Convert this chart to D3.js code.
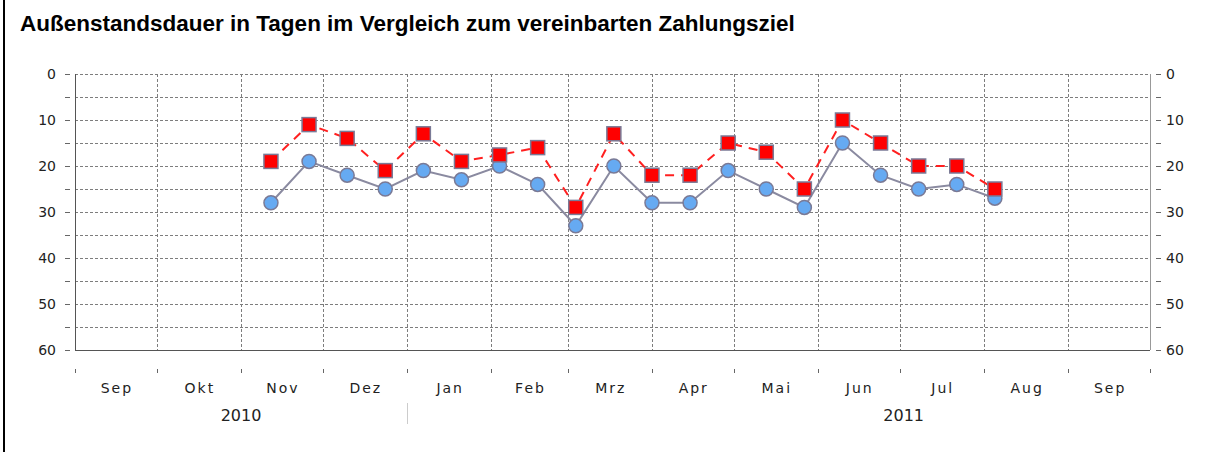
<!DOCTYPE html>
<html>
<head>
<meta charset="utf-8">
<script src="https://cdn.jsdelivr.net/npm/d3@7"></script>
<style>
  body { margin: 0; background: #fff; }
  svg { display: block; font-family: "DejaVu Sans", sans-serif; }
  .grid line { stroke: #7d7d7d; stroke-dasharray: 3,2; shape-rendering: crispEdges; }
  .tick-lbl { font-size: 14px; fill: #222; }
  .year-lbl { font-size: 16px; fill: #222; }
  .month-lbl { font-size: 14px; fill: #222; letter-spacing: 2px; }
</style>
</head>
<body>
<svg id="chart" width="1216" height="452"></svg>
<script>
// biweekly readings, starting 12 Nov 2010
var startDate = new Date(2010, 10, 12);
var stepDays = 14;
var aussenstand = [28, 19, 22, 25, 21, 23, 20, 24, 33, 20, 28, 28, 21, 25, 29, 15, 22, 25, 24, 27];
var zahlungsziel = [19, 11, 14, 21, 13, 19, 17.6, 16, 29, 13, 22, 22, 15, 17, 25, 10, 15, 20, 20, 25];
var monthNames = ["Jan", "Feb", "Mrz", "Apr", "Mai", "Jun", "Jul", "Aug", "Sep", "Okt", "Nov", "Dez"];
var yTicks = [0, 10, 20, 30, 40, 50, 60];
var yMinor = [5, 15, 25, 35, 45, 55];
var title = "Außenstandsdauer in Tagen im Vergleich zum vereinbarten Zahlungsziel";

var margin = {top: 74, left: 75, right: 66, bottom: 102};
var width = 1216, height = 452;

var svg = d3.select('#chart');

// frame line on the left
svg.append('rect').attr('x', 3).attr('y', 0).attr('width', 2).attr('height', height).attr('fill', '#000');

svg.append('text')
    .attr('x', 20).attr('y', 31)
    .style('font-family', '"Liberation Sans", Arial, sans-serif')
    .style('font-size', '22.5px').style('font-weight', 'bold')
    .text(title);

var x0 = new Date(2010, 8, 1), x1 = new Date(2011, 9, 1);
var x = d3.scaleTime().domain([x0, x1]).range([margin.left, width - margin.right]);
var y = d3.scaleLinear().domain([0, 60]).range([margin.top, height - margin.bottom]);

var months = d3.timeMonth.range(x0, d3.timeMonth.offset(x1, 1));

// grid
var grid = svg.append('g').attr('class', 'grid');
grid.selectAll('line.h')
    .data(yTicks.concat(yMinor))
    .enter().append('line')
    .attr('x1', x.range()[0]).attr('x2', x.range()[1])
    .attr('y1', d => Math.round(y(d)) + 0.5).attr('y2', d => Math.round(y(d)) + 0.5);
grid.selectAll('line.v')
    .data(months)
    .enter().append('line')
    .attr('x1', d => Math.round(x(d)) + 0.5).attr('x2', d => Math.round(x(d)) + 0.5)
    .attr('y1', y.range()[0]).attr('y2', y.range()[1]);

// plot border: left/bottom dark, right grey
svg.append('line').attr('x1', x.range()[0] + 0.5).attr('x2', x.range()[0] + 0.5)
    .attr('y1', y.range()[0]).attr('y2', y.range()[1] + 0.5).attr('stroke', '#555');
svg.append('line').attr('x1', x.range()[0]).attr('x2', x.range()[1])
    .attr('y1', Math.round(y(60)) + 0.5).attr('y2', Math.round(y(60)) + 0.5).attr('stroke', '#555');
svg.append('line').attr('x1', x.range()[1] + 0.5).attr('x2', x.range()[1] + 0.5)
    .attr('y1', y.range()[0]).attr('y2', y.range()[1]).attr('stroke', '#999');

// y axes (both sides)
var yAll = yTicks.concat(yMinor);
[[x.range()[0] - 10, -1], [x.range()[1] + 6, 1]].forEach(function(s) {
    var g = svg.append('g');
    g.selectAll('line')
        .data(yAll).enter().append('line')
        .attr('x1', s[0]).attr('x2', s[0] + 5)
        .attr('y1', d => Math.round(y(d)) + 0.5).attr('y2', d => Math.round(y(d)) + 0.5)
        .attr('stroke', '#666');
    g.selectAll('text')
        .data(yTicks).enter().append('text')
        .attr('class', 'tick-lbl')
        .attr('x', s[1] < 0 ? s[0] - 9 : s[0] + 10)
        .attr('y', d => y(d) + 5)
        .attr('text-anchor', s[1] < 0 ? 'end' : 'start')
        .text(d => d);
});

// x axis: month ticks, names, years
var xAxisY = 369;
var mTicks = months.filter(d => d <= x1);
svg.append('g').selectAll('line')
    .data(mTicks).enter().append('line')
    .attr('x1', d => Math.round(x(d)) + 0.5).attr('x2', d => Math.round(x(d)) + 0.5)
    .attr('y1', xAxisY).attr('y2', xAxisY + 4)
    .attr('stroke', '#666');
svg.append('g').selectAll('text')
    .data(mTicks.slice(0, -1)).enter().append('text')
    .attr('class', 'month-lbl')
    .attr('x', d => (x(d) + x(d3.timeMonth.offset(d, 1))) / 2 + 1)
    .attr('y', 393)
    .attr('text-anchor', 'middle')
    .text(d => monthNames[d.getMonth()]);

var years = d3.timeYear.range(d3.timeYear.floor(x0), x1);
svg.append('g').selectAll('text')
    .data(years).enter().append('text')
    .attr('class', 'year-lbl')
    .attr('x', function(d) {
        var a = d < x0 ? x0 : d;
        return (x(a) + x(d3.timeYear.offset(d, 1))) / 2;
    })
    .attr('y', 421)
    .attr('text-anchor', 'middle')
    .text(d => d.getFullYear());
svg.append('g').selectAll('line')
    .data(years.filter(d => d > x0)).enter().append('line')
    .attr('x1', d => Math.round(x(d)) + 0.5).attr('x2', d => Math.round(x(d)) + 0.5)
    .attr('y1', 403).attr('y2', 424)
    .attr('stroke', '#ccc');

// series
var dates = aussenstand.map((d, i) => d3.timeDay.offset(startDate, i * stepDays));
var line = d3.line().x((d, i) => x(dates[i])).y(d => y(d));

svg.append('path')
    .attr('d', line(zahlungsziel))
    .attr('fill', 'none').attr('stroke', '#ff2020').attr('stroke-width', 2)
    .attr('stroke-dasharray', '9,7');
svg.append('path')
    .attr('d', line(aussenstand))
    .attr('fill', 'none').attr('stroke', '#8a8aa0').attr('stroke-width', 2);

svg.append('g').selectAll('circle')
    .data(aussenstand).enter().append('circle')
    .attr('cx', (d, i) => x(dates[i]))
    .attr('cy', d => y(d))
    .attr('r', 7)
    .attr('fill', '#66aaf2').attr('stroke', '#7a7a96').attr('stroke-width', 1.5);

var sq = 14;
svg.append('g').selectAll('rect')
    .data(zahlungsziel).enter().append('rect')
    .attr('x', (d, i) => x(dates[i]) - sq / 2)
    .attr('y', d => y(d) - sq / 2)
    .attr('width', sq).attr('height', sq)
    .attr('fill', '#ff0000').attr('stroke', '#7a7a96').attr('stroke-width', 1.5);
</script>
</body>
</html>
